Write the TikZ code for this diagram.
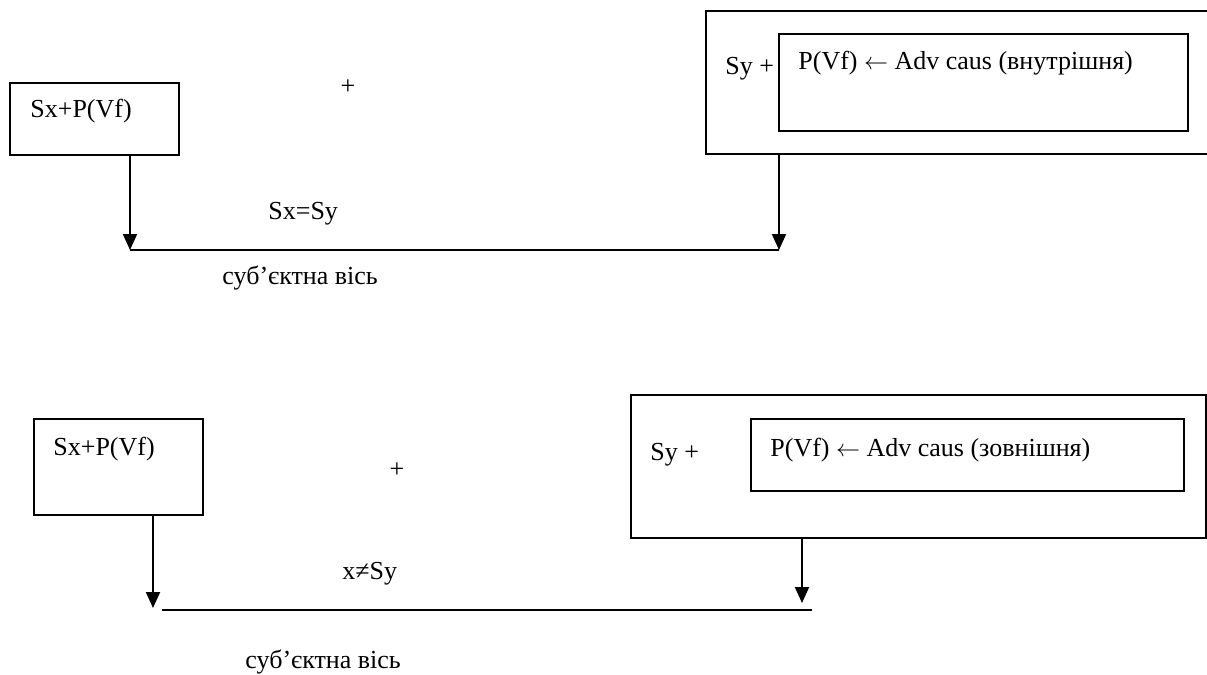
\documentclass[tikz,border=0pt]{standalone}
\usepackage{fontspec}
\setmainfont{Liberation Serif}
\usetikzlibrary{positioning, arrows.meta}

\begin{document}
\begin{tikzpicture}[
  x=0.5pt, y=-0.5pt,
  font=\fontsize{13}{15}\selectfont,
  box/.style={draw, line width=0.8pt, anchor=north west, inner sep=0pt},
  txt/.style={anchor=base west, inner sep=0pt},
  arrow/.style={-{Triangle[length=8pt, width=7pt]}, line width=1pt},
  axis/.style={line width=1pt},
]
  \useasboundingbox (0,0) rectangle (1207,675);

  % upper scheme
  \node[box, minimum width=84.5pt, minimum height=36pt] (sx1) at (9,82) {};
  \node[txt] (sx1t) at (30,117) {Sx+P(Vf)};
  \node[inner sep=0pt] (plus1) at (348,87) {+};
  \node[box, minimum width=260pt, minimum height=71.5pt] (sy1) at (705,10) {};
  \node[box, minimum width=204.5pt, minimum height=48.5pt] (adv1) at (778,33) {};
  \node[txt] (sy1t) at (725,74) {Sy +};
  \node[txt] (adv1t) at (798,69) {P(Vf) $\leftarrow$ Adv caus (внутрішня)};
  \node[txt] (eq1) at (268,219) {Sx=Sy};
  \node[txt] (axis1t) at (222,284) {суб’єктна вісь};

  \coordinate (ax1l) at (130,250);
  \coordinate (ax1r) at (779,250);
  \draw[axis] (ax1l) -- (ax1r);
  \draw[arrow] (sx1.south -| ax1l) -- (ax1l);
  \draw[arrow] (sy1.south -| ax1r) -- (ax1r);

  % lower scheme
  \node[box, minimum width=84.5pt, minimum height=48pt] (sx2) at (33,418) {};
  \node[txt] (sx2t) at (53,455) {Sx+P(Vf)};
  \node[inner sep=0pt] (plus2) at (397,470) {+};
  \node[box, minimum width=287.5pt, minimum height=71.5pt] (sy2) at (630,394) {};
  \node[box, minimum width=216.5pt, minimum height=36pt] (adv2) at (750,418) {};
  \node[txt] (sy2t) at (650,460) {Sy +};
  \node[txt] (adv2t) at (770,456) {P(Vf) $\leftarrow$ Adv caus (зовнішня)};
  \node[txt] (eq2) at (342,579) {x≠Sy};
  \node[txt] (axis2t) at (245,668) {суб’єктна вісь};

  \coordinate (ax2l) at (162,610);
  \coordinate (ax2r) at (812,610);
  \coordinate (tip2l) at (153,608);
  \coordinate (tip2r) at (802,603);
  \draw[axis] (ax2l) -- (ax2r);
  \draw[arrow] (sx2.south -| tip2l) -- (tip2l);
  \draw[arrow] (sy2.south -| tip2r) -- (tip2r);
\end{tikzpicture}
\end{document}
